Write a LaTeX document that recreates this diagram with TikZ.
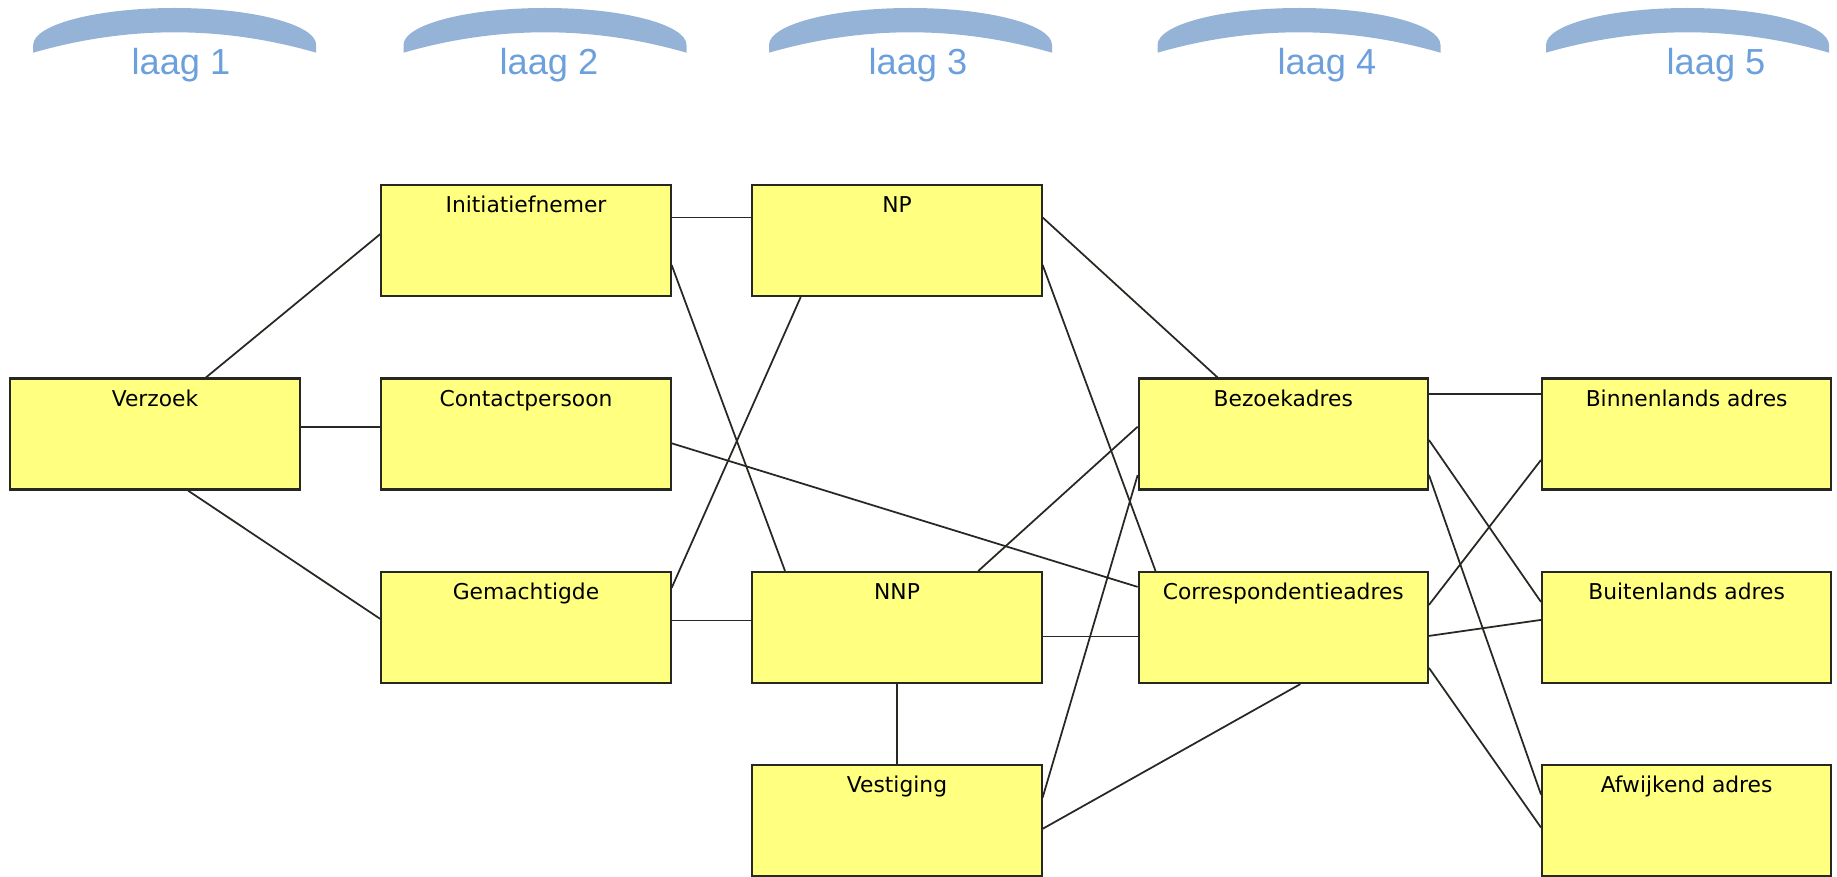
\documentclass[tikz,border=0pt]{standalone}
\usepackage{fontspec}
\setmainfont{DejaVu Sans}
\newfontfamily\laagfont{Liberation Sans}
\usetikzlibrary{calc}

\definecolor{vakgeel}{RGB}{255,255,128}
\definecolor{vakrand}{RGB}{40,40,35}
\definecolor{boogblauw}{RGB}{149,179,215}
\definecolor{laagblauw}{RGB}{108,160,220}

% gebogen balk boven een laag, #1 = midden
\newcommand{\laagboog}[1]{%
  \fill[boogblauw] (#1-141.5,52.7) -- (#1-141.5,45)
    .. controls (#1-141.5,24.6) and (#1-78.1,8) .. (#1,8)
    .. controls (#1+78.1,8) and (#1+141.5,24.6) .. (#1+141.5,45)
    -- (#1+141.5,52.7)
    .. controls (#1+47.2,25.5) and (#1-47.2,25.5) .. (#1-141.5,52.7) -- cycle;}

\begin{document}
\begin{tikzpicture}[x=0.01cm, y=-0.01cm,
    vak/.style={draw=vakrand, fill=vakgeel, line width=0.6pt,
      minimum width=2.89cm, inner xsep=0pt, inner ysep=0pt,
      text height=0.277cm, text depth=0.833cm,
      font=\fontsize{6.2}{7}\selectfont},
    lijn/.style={draw=vakrand, line width=0.5pt},
    laag/.style={font=\laagfont\fontsize{10.3}{12}\selectfont,
      text=laagblauw, anchor=base, inner sep=0pt}]
    \useasboundingbox (0,0) rectangle (1837,876);

    % lagen
    \laagboog{174.7}
    \laagboog{545}
    \laagboog{910.5}
    \laagboog{1299}
    \laagboog{1687.5}
    \node[laag] (laag1) at (181,75) {laag 1};
    \node[laag] (laag2) at (549,75) {laag 2};
    \node[laag] (laag3) at (918,75) {laag 3};
    \node[laag] (laag4) at (1327,75) {laag 4};
    \node[laag] (laag5) at (1716,75) {laag 5};

    % objecten
    \node[vak] (verzoek) at (155, 434) {Verzoek};
    \node[vak] (init) at (526, 240.5) {Initiatiefnemer};
    \node[vak] (contact) at (526, 434) {Contactpersoon};
    \node[vak] (gemacht) at (526, 627.5) {Gemachtigde};
    \node[vak] (np) at (897, 240.5) {NP};
    \node[vak] (nnp) at (897, 627.5) {NNP};
    \node[vak] (vest) at (897, 820.5) {Vestiging};
    \node[vak] (bezoek) at (1283.3, 434) {Bezoekadres};
    \node[vak] (corr) at (1283.3, 627.5) {Correspondentieadres};
    \node[vak] (binnen) at (1686.6, 434) {Binnenlands adres};
    \node[vak] (buiten) at (1686.6, 627.5) {Buitenlands adres};
    \node[vak] (afwijk) at (1686.6, 820.5) {Afwijkend adres};

    % relaties
    \draw[lijn] ($(verzoek.north)+(51,0)$) -- ($(init.west)+(0,-6.5)$);
    \draw[lijn] ($(verzoek.east)+(0,-7)$) -- ($(contact.west)+(0,-7)$);
    \draw[lijn] ($(verzoek.south)+(33,0)$) -- ($(gemacht.west)+(0,-8.5)$);
    \draw[lijn] ($(init.east)+(0,-23)$) -- ($(np.west)+(0,-23)$);
    \draw[lijn] ($(init.east)+(0,24.5)$) -- ($(nnp.north)+(-112,0)$);
    \draw[lijn] ($(contact.east)+(0,9.3)$) -- ($(corr.west)+(0,-40.6)$);
    \draw[lijn] ($(gemacht.east)+(0,-39.6)$) -- ($(np.south)+(-96.3,0)$);
    \draw[lijn] ($(gemacht.east)+(0,-7)$) -- ($(nnp.west)+(0,-7)$);
    \draw[lijn] ($(np.east)+(0,-23)$) -- ($(bezoek.north)+(-65.8,0)$);
    \draw[lijn] ($(np.east)+(0,24.5)$) -- ($(corr.north)+(-127.8,0)$);
    \draw[lijn] ($(nnp.north)+(81.3,0)$) -- ($(bezoek.west)+(0,-7.3)$);
    \draw[lijn] ($(nnp.east)+(0,9)$) -- ($(corr.west)+(0,9)$);
    \draw[lijn] (nnp.south) -- (vest.north);
    \draw[lijn] ($(vest.east)+(0,-23)$) -- ($(bezoek.west)+(0,41)$);
    \draw[lijn] ($(vest.east)+(0,8.3)$) -- ($(corr.south)+(17,0)$);
    \draw[lijn] ($(bezoek.east)+(0,-40)$) -- ($(binnen.west)+(0,-40)$);
    \draw[lijn] ($(bezoek.east)+(0,6)$) -- ($(buiten.west)+(0,-25.6)$);
    \draw[lijn] ($(bezoek.east)+(0,41)$) -- ($(afwijk.west)+(0,-26)$);
    \draw[lijn] ($(corr.east)+(0,-22.6)$) -- ($(binnen.west)+(0,26)$);
    \draw[lijn] ($(corr.east)+(0,8.4)$) -- ($(buiten.west)+(0,-7.6)$);
    \draw[lijn] ($(corr.east)+(0,40.4)$) -- ($(afwijk.west)+(0,7)$);
\end{tikzpicture}
\end{document}
